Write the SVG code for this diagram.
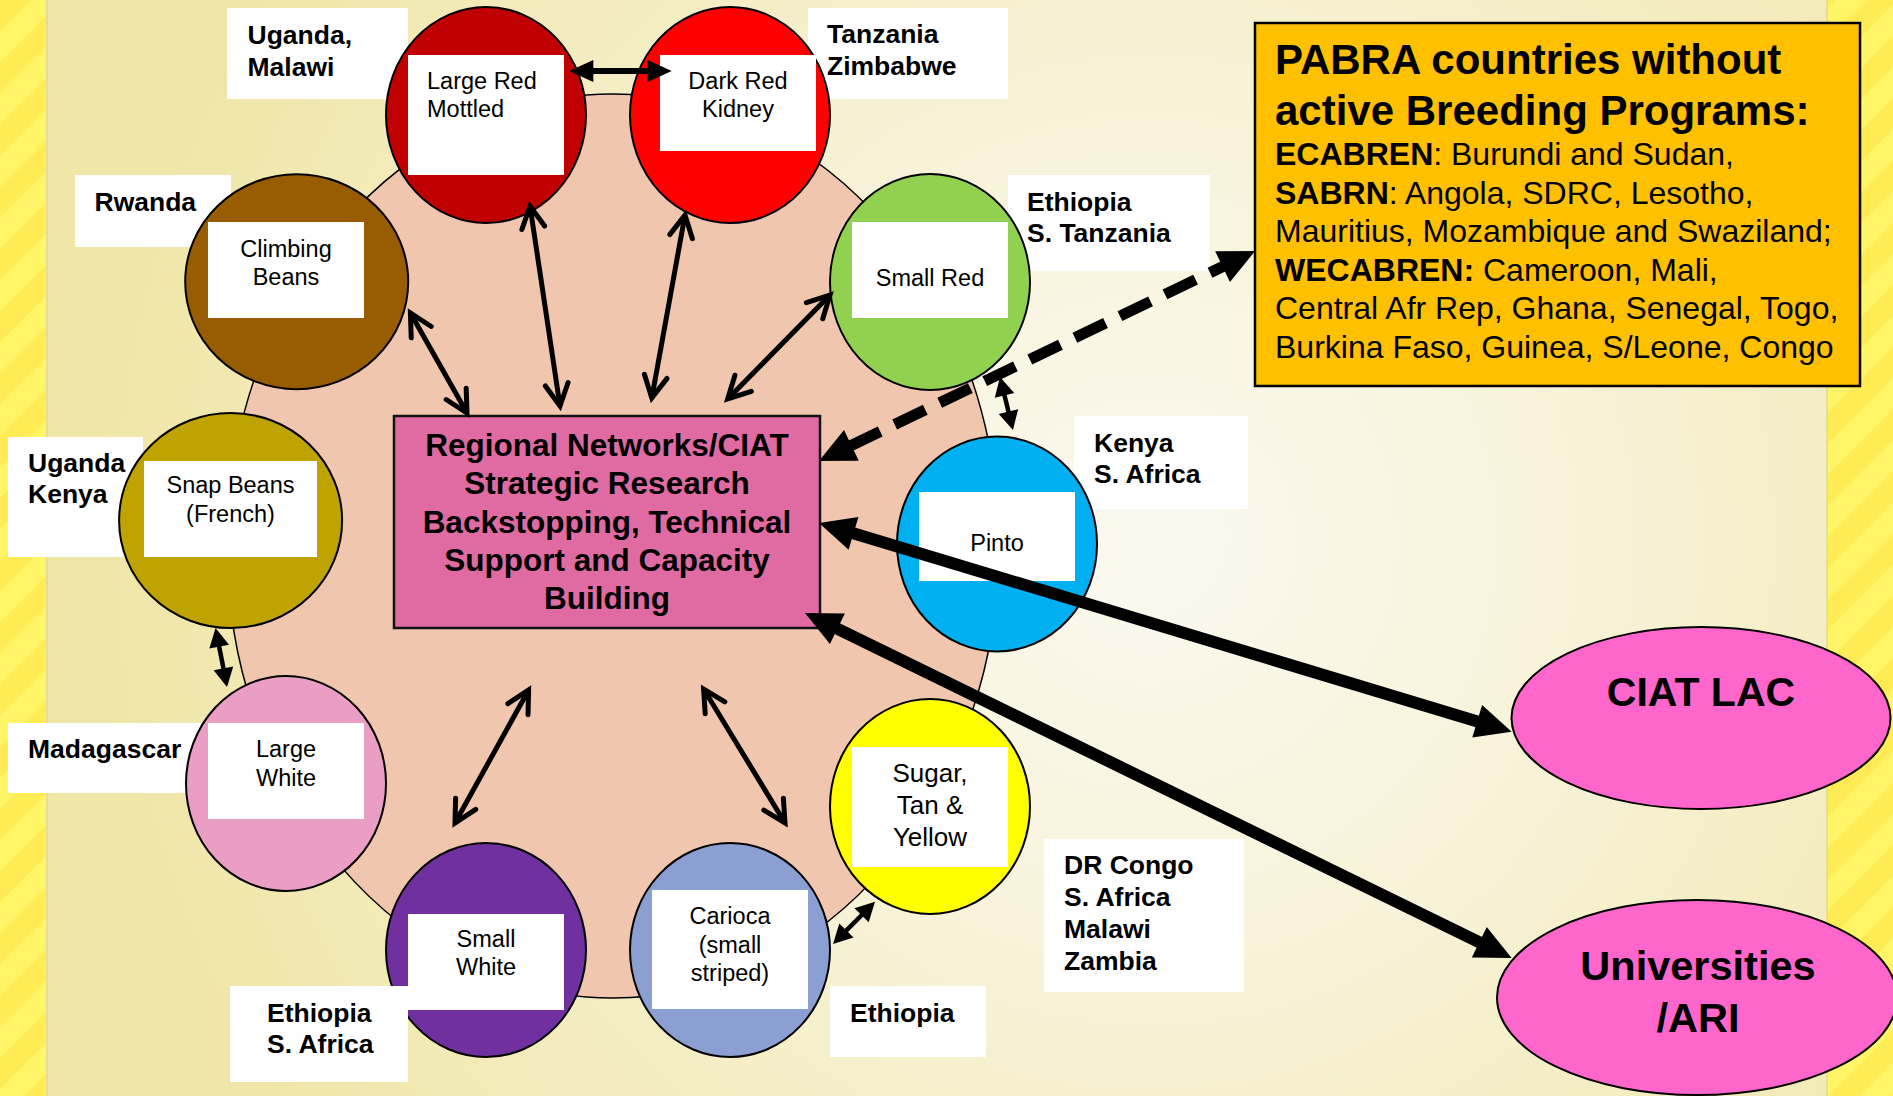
<svg xmlns="http://www.w3.org/2000/svg" width="1893" height="1096" viewBox="0 0 1893 1096">
<defs>
<radialGradient id="bg" gradientUnits="userSpaceOnUse" cx="1150" cy="540" r="1050">
<stop offset="0" stop-color="#fbf9f0"/>
<stop offset="0.45" stop-color="#f7f2d6"/>
<stop offset="1" stop-color="#f0e6a8"/>
</radialGradient>
<pattern id="stripes" patternUnits="userSpaceOnUse" width="44" height="44" patternTransform="rotate(45)">
<rect width="44" height="44" fill="#fff567"/>
<rect width="22" height="44" fill="#ffec55"/>
</pattern>
<marker id="tb" markerUnits="userSpaceOnUse" markerWidth="36" markerHeight="34" refX="2" refY="17" orient="auto-start-reverse" overflow="visible"><path d="M0,0 L36,17 L0,34 Z" fill="#000"/></marker>
<marker id="tm" markerUnits="userSpaceOnUse" markerWidth="24" markerHeight="22" refX="1" refY="11" orient="auto-start-reverse" overflow="visible"><path d="M0,0 L24,11 L0,22 Z" fill="#000"/></marker>
<marker id="ts" markerUnits="userSpaceOnUse" markerWidth="19" markerHeight="20" refX="1" refY="10" orient="auto-start-reverse" overflow="visible"><path d="M0,0 L19,10 L0,20 Z" fill="#000"/></marker>
<marker id="ov" markerUnits="userSpaceOnUse" markerWidth="22" markerHeight="23" refX="22" refY="11.5" orient="auto-start-reverse" overflow="visible"><path d="M0,0 L22,11.5 L0,23" fill="none" stroke="#000" stroke-width="5" stroke-linecap="round" stroke-linejoin="miter"/></marker>
<style>
text { font-family: "Liberation Sans", Arial, sans-serif; fill: #000; }
.n { font-size: 23.5px; }
.c { text-anchor: middle; }
.lb { font-size: 26.5px; font-weight: bold; }
.b { font-weight: bold; }
.node ellipse { stroke: #000; stroke-width: 2; }
.wb { fill: #fff; }
#connectors line { stroke: #000; fill: none; }
.op { stroke-width: 5; marker-start: url(#ov); marker-end: url(#ov); }
.sm { stroke-width: 4.5; marker-start: url(#ts); marker-end: url(#ts); }
.bg2 { stroke-width: 12; marker-start: url(#tb); marker-end: url(#tb); }
</style>
</defs>

<!-- background -->
<rect x="0" y="0" width="1893" height="1096" fill="url(#bg)"/>
<rect x="0" y="0" width="47" height="1096" fill="url(#stripes)"/>
<line x1="47" y1="0" x2="47" y2="1096" stroke="#e6dd9a" stroke-width="2"/>
<rect x="1827" y="0" width="66" height="1096" fill="url(#stripes)"/>
<line x1="1827" y1="0" x2="1827" y2="1096" stroke="#e6dd9a" stroke-width="2"/>

<ellipse id="ring" cx="613" cy="546" rx="386" ry="452" fill="#f1c6ae" stroke="#000" stroke-width="1.5"/>

<!-- country labels (under ellipses) -->
<g id="lbl-uganda-malawi"><rect class="wb" x="227" y="8" width="181" height="91"/><text class="lb" x="247.5" y="44">Uganda,<tspan x="247.5" y="76">Malawi</tspan></text></g>
<g id="lbl-tanzania-zimbabwe"><rect class="wb" x="808" y="8" width="200" height="91"/><text class="lb" x="827" y="43">Tanzania<tspan x="827" y="75">Zimbabwe</tspan></text></g>
<g id="lbl-ethiopia-stanzania"><rect class="wb" x="1008" y="175" width="202" height="96"/><text class="lb" x="1027" y="211">Ethiopia<tspan x="1027" y="242">S. Tanzania</tspan></text></g>
<g id="lbl-rwanda"><rect class="wb" x="75" y="175" width="156" height="72"/><text class="lb" x="94.5" y="211">Rwanda</text></g>
<g id="lbl-uganda-kenya"><rect class="wb" x="8" y="437" width="135" height="120"/><text class="lb" x="28" y="472">Uganda<tspan x="28" y="503">Kenya</tspan></text></g>
<g id="lbl-madagascar"><rect class="wb" x="8" y="723" width="195" height="70"/><text class="lb" x="28" y="758">Madagascar</text></g>
<g id="lbl-kenya-safrica"><rect class="wb" x="1074" y="416" width="174" height="93"/><text class="lb" x="1094" y="452">Kenya<tspan x="1094" y="483">S. Africa</tspan></text></g>
<g id="lbl-drcongo"><rect class="wb" x="1044" y="839" width="200" height="153"/><text class="lb" x="1064" y="874">DR Congo<tspan x="1064" y="906">S. Africa</tspan><tspan x="1064" y="938">Malawi</tspan><tspan x="1064" y="970">Zambia</tspan></text></g>
<g id="lbl-ethiopia"><rect class="wb" x="830" y="986" width="156" height="71"/><text class="lb" x="850" y="1022">Ethiopia</text></g>

<!-- bean type nodes -->
<g id="node-large-red-mottled" class="node">
<ellipse cx="486" cy="115" rx="100" ry="108" fill="#c00000"/>
<rect class="wb" x="408" y="55" width="156" height="120"/>
<text class="n" x="427" y="89">Large Red<tspan x="427" y="117">Mottled</tspan></text>
</g>
<g id="node-dark-red-kidney" class="node">
<ellipse cx="730" cy="115" rx="100" ry="108" fill="#ff0000"/>
<rect class="wb" x="660" y="55" width="156" height="96"/>
<text class="n c" x="738" y="89">Dark Red<tspan x="738" y="117">Kidney</tspan></text>
</g>
<g id="node-small-red" class="node">
<ellipse cx="930" cy="282" rx="100" ry="108" fill="#92d050"/>
<rect class="wb" x="852" y="222" width="156" height="96"/>
<text class="n c" x="930" y="286">Small Red</text>
</g>
<g id="node-pinto" class="node">
<ellipse cx="997" cy="544" rx="100" ry="107.5" fill="#00b0f0"/>
<rect class="wb" x="919" y="492" width="156" height="89"/>
<text class="n c" x="997" y="551">Pinto</text>
</g>
<g id="node-sugar-tan-yellow" class="node">
<ellipse cx="930" cy="806.5" rx="100" ry="107.5" fill="#ffff00"/>
<rect class="wb" x="852" y="747" width="156" height="120"/>
<text class="c" style="font-size:26px" x="930" y="782">Sugar,<tspan x="930" y="814">Tan &amp;</tspan><tspan x="930" y="846">Yellow</tspan></text>
</g>
<g id="node-carioca" class="node">
<ellipse cx="730" cy="950" rx="100" ry="107" fill="#8c9fd2"/>
<rect class="wb" x="652" y="890" width="156" height="119"/>
<text class="n c" x="730" y="924">Carioca<tspan x="730" y="952.5">(small</tspan><tspan x="730" y="981">striped)</tspan></text>
</g>
<g id="node-small-white" class="node">
<ellipse cx="486" cy="950" rx="100" ry="107" fill="#7030a0"/>
<rect class="wb" x="408" y="914" width="156" height="96"/>
<text class="n c" x="486" y="947">Small<tspan x="486" y="975">White</tspan></text>
</g>
<g id="node-large-white" class="node">
<ellipse cx="286" cy="783.5" rx="100" ry="107.5" fill="#eb9ec4"/>
<rect class="wb" x="208" y="723" width="156" height="96"/>
<text class="n c" x="286" y="757">Large<tspan x="286" y="786">White</tspan></text>
</g>
<g id="node-snap-beans" class="node">
<ellipse cx="230.6" cy="520.5" rx="111.5" ry="107.5" fill="#bfa300"/>
<rect class="wb" x="144" y="461" width="173" height="96"/>
<text class="n c" x="230.5" y="493">Snap Beans<tspan x="230.5" y="522">(French)</tspan></text>
</g>
<g id="node-climbing-beans" class="node">
<ellipse cx="296.7" cy="281.7" rx="111.5" ry="107.5" fill="#985d00"/>
<rect class="wb" x="208" y="222" width="156" height="96"/>
<text class="n c" x="286" y="257">Climbing<tspan x="286" y="285">Beans</tspan></text>
</g>

<g id="lbl-ethiopia-safrica"><rect class="wb" x="230" y="986" width="178" height="96"/><text class="lb" x="267" y="1022">Ethiopia<tspan x="267" y="1053">S. Africa</tspan></text></g>

<!-- central box -->
<g id="node-regional-networks">
<rect x="394" y="416" width="426" height="212" fill="#e06ba3" stroke="#111" stroke-width="2.5"/>
<text class="b c" style="font-size:31.5px" x="607" y="456">Regional Networks/CIAT<tspan x="607" y="494.3">Strategic Research</tspan><tspan x="607" y="532.7">Backstopping, Technical</tspan><tspan x="607" y="571">Support and Capacity</tspan><tspan x="607" y="609.3">Building</tspan></text>
</g>

<!-- PABRA box -->
<g id="node-pabra">
<rect x="1255" y="23" width="605" height="363" fill="#ffc000" stroke="#000" stroke-width="2.5"/>
<text class="b" style="font-size:42px" x="1275" y="74">PABRA countries without<tspan x="1275" y="125">active Breeding Programs:</tspan></text>
<text style="font-size:32px" x="1275" y="165"><tspan class="b">ECABREN</tspan>: Burundi and Sudan,</text>
<text style="font-size:32px" x="1275" y="203.5"><tspan class="b">SABRN</tspan>: Angola, SDRC, Lesotho,</text>
<text style="font-size:32px" x="1275" y="242">Mauritius, Mozambique and Swaziland;</text>
<text style="font-size:32px" x="1275" y="280.5"><tspan class="b">WECABREN:</tspan> Cameroon, Mali,</text>
<text style="font-size:32px" x="1275" y="319">Central Afr Rep, Ghana, Senegal, Togo,</text>
<text style="font-size:32px" x="1275" y="357.5">Burkina Faso, Guinea, S/Leone, Congo</text>
</g>

<!-- external partners -->
<g id="node-ciat-lac" class="node">
<ellipse cx="1701" cy="718" rx="189.5" ry="91" fill="#ff66cc"/>
<text class="b c" style="font-size:41px" x="1701" y="706">CIAT LAC</text>
</g>
<g id="node-universities" class="node">
<ellipse cx="1697" cy="997.5" rx="200" ry="97.5" fill="#ff66cc"/>
<text class="b c" style="font-size:41.5px" x="1698" y="980">Universities<tspan x="1698" y="1032">/ARI</tspan></text>
</g>

<!-- connectors -->
<g id="connectors">
<line x1="592.3" y1="71" x2="648.7" y2="71" stroke-width="6" marker-start="url(#tm)" marker-end="url(#tm)"/>
<line class="op" x1="410.4" y1="313" x2="467" y2="413"/>
<line class="op" x1="530" y1="206" x2="560" y2="406"/>
<line class="op" x1="685" y1="215" x2="651.8" y2="398"/>
<line class="op" x1="830" y1="295" x2="727.7" y2="399"/>
<line class="op" x1="528.6" y1="690" x2="455" y2="823"/>
<line class="op" x1="703.6" y1="689" x2="785" y2="823"/>
<line class="sm" x1="1004.3" y1="394.5" x2="1008.7" y2="412.5"/>
<line class="sm" x1="219" y1="645.7" x2="223.6" y2="669.3"/>
<line class="sm" x1="862.3" y1="914.5" x2="845.7" y2="931.2"/>
<line class="bg2" x1="851.6" y1="532.8" x2="1479.1" y2="721.9"/>
<line class="bg2" x1="835.6" y1="627.9" x2="1481.1" y2="943.1"/>
<line x1="849.6" y1="446.2" x2="1224.4" y2="265.8" stroke-width="11" stroke-dasharray="34 16" marker-start="url(#tb)" marker-end="url(#tb)"/>
</g>
</svg>
